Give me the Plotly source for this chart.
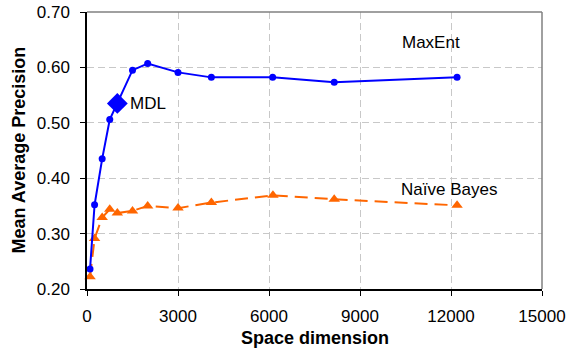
import plotly.graph_objects as go

# Data
maxent_x = [100, 250, 500, 750, 1500, 2000, 3000, 4100, 6120, 8150, 12200]
maxent_y = [0.236, 0.352, 0.435, 0.506, 0.595, 0.607, 0.591, 0.582, 0.582, 0.573, 0.582]
nb_x = [100, 250, 500, 750, 1000, 1500, 2000, 3000, 4100, 6130, 8150, 12200]
nb_y = [0.222, 0.291, 0.329, 0.344, 0.337, 0.341, 0.350, 0.346, 0.356, 0.369, 0.362, 0.351]
mdl_x = [1000]
mdl_y = [0.535]
x_ticks = [0, 3000, 6000, 9000, 12000, 15000]
y_ticks = [0.20, 0.30, 0.40, 0.50, 0.60, 0.70]

FONT = "Liberation Sans, Arial, sans-serif"
BLUE = "#0000FF"
ORANGE = "#FF6600"

fig = go.Figure()
fig.add_trace(go.Scatter(x=nb_x, y=nb_y, mode="lines+markers", name="Naïve Bayes",
                         line=dict(color=ORANGE, width=2, dash="13px,7px"),
                         marker=dict(symbol="triangle-up", size=10, color=ORANGE),
                         cliponaxis=False))
fig.add_trace(go.Scatter(x=maxent_x, y=maxent_y, mode="lines+markers", name="MaxEnt",
                         line=dict(color=BLUE, width=2),
                         marker=dict(symbol="circle", size=7, color=BLUE),
                         cliponaxis=False))
fig.add_trace(go.Scatter(x=mdl_x, y=mdl_y, mode="markers", name="MDL",
                         marker=dict(symbol="diamond", size=16, color=BLUE),
                         cliponaxis=False))

fig.add_annotation(x=1000, y=0.535, text="MDL", showarrow=False, xanchor="left",
                   xshift=11, font=dict(family=FONT, size=17, color="black"))
fig.add_annotation(x=11350, y=0.645, text="MaxEnt", showarrow=False,
                   font=dict(family=FONT, size=17, color="black"))
fig.add_annotation(x=11950, y=0.379, text="Naïve Bayes", showarrow=False,
                   font=dict(family=FONT, size=17, color="black"))

# axis titles
fig.add_annotation(xref="paper", yref="paper", x=0.5, y=0, yshift=-49, yanchor="middle",
                   text="<b>Space dimension</b>", showarrow=False,
                   font=dict(family=FONT, size=18, color="black"))
fig.add_annotation(xref="paper", yref="paper", x=0, xshift=-69, y=0.5, xanchor="center",
                   text="<b>Mean Average Precision</b>", showarrow=False, textangle=-90,
                   font=dict(family=FONT, size=18, color="black"))

# gray top/right border
fig.add_shape(type="line", xref="paper", yref="paper", x0=0, x1=1, y0=1, y1=1,
              line=dict(color="#808080", width=1.5))
fig.add_shape(type="line", xref="paper", yref="paper", x0=1, x1=1, y0=0, y1=1,
              line=dict(color="#808080", width=1.5))

fig.update_layout(
    width=568, height=353,
    margin=dict(l=87, r=26, t=12, b=64),
    paper_bgcolor="white", plot_bgcolor="white",
    showlegend=False,
    font=dict(family=FONT, size=17, color="black"),
    xaxis=dict(range=[0, 15000], tickvals=x_ticks, ticktext=[str(v) for v in x_ticks],
               automargin=False,
               showline=True, linecolor="black", linewidth=1.5,
               ticks="outside", ticklen=5, tickcolor="black", ticklabelstandoff=6,
               showgrid=True, gridcolor="#C8C8C8", griddash="7px,4px", gridwidth=1.2,
               zeroline=False),
    yaxis=dict(range=[0.2, 0.7], tickvals=y_ticks, ticktext=[f"{v:.2f}" for v in y_ticks],
               automargin=False,
               showline=True, linecolor="black", linewidth=1.5,
               ticks="outside", ticklen=5, tickcolor="black", ticklabelstandoff=7,
               showgrid=True, gridcolor="#C8C8C8", griddash="7px,4px", gridwidth=1.2,
               zeroline=False),
)

fig.write_html("out.html", config={"displayModeBar": False},
               post_script="document.body.style.margin='0';document.body.style.overflow='hidden';")
